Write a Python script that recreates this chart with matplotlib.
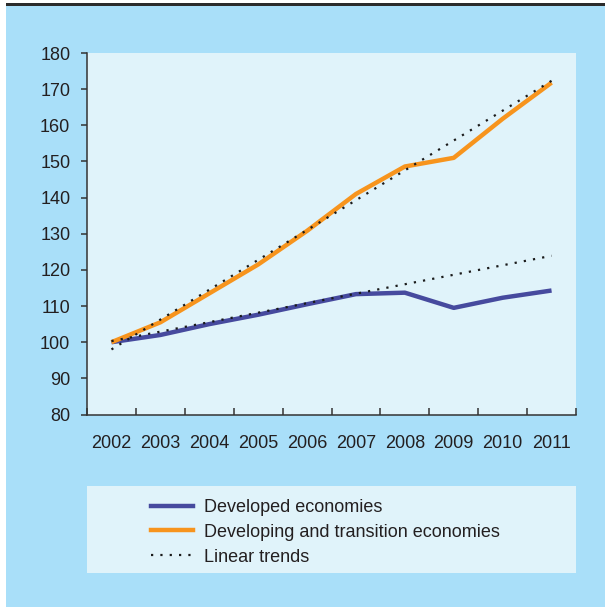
import matplotlib.pyplot as plt
from matplotlib.lines import Line2D
from matplotlib.patches import Rectangle

plt.rcParams['font.family'] = ['Liberation Sans', 'DejaVu Sans']

# data (index, 2002 = 100)
years = ['2002', '2003', '2004', '2005', '2006', '2007', '2008', '2009', '2010', '2011']
developed = [100, 102, 105, 107.6, 110.5, 113.3, 113.7, 109.5, 112.3, 114.3]
developing = [100, 105.5, 113.5, 121.5, 130.8, 141, 148.6, 151, 161.8, 171.8]
# linear trends, start (2002) and end (2011) values
developed_trend = [100.3, 123.9]
developing_trend = [98.0, 172.3]

labels = ['Developed economies', 'Developing and transition economies', 'Linear trends']

bg_blue = '#a9dff9'
panel = '#e0f3fa'
navy = '#464a9e'
orange = '#f7941d'
text_col = '#231f20'

W, H = 605, 607
fig = plt.figure(figsize=(W / 100, H / 100), dpi=100, facecolor='white')

# outer light-blue box with dark rule on top
fig.patches.append(Rectangle((6 / W, 0), 1 - 6 / W, 1 - 6 / H, transform=fig.transFigure,
                             facecolor=bg_blue, edgecolor='none', zorder=-2))
fig.patches.append(Rectangle((6 / W, 1 - 6 / H), 1 - 6 / W, 2.5 / H, transform=fig.transFigure,
                             facecolor='#2b2b2b', edgecolor='none', zorder=-2))

ax = fig.add_axes([87 / W, 1 - 414.5 / H, (576 - 87) / W, (414.5 - 53) / H])
ax.set_facecolor(panel)

x = list(range(len(years)))
ax.plot(x, developed, color=navy, lw=3.2, solid_capstyle='butt', zorder=3)
ax.plot(x, developing, color=orange, lw=3.2, solid_capstyle='butt', zorder=3)
ax.plot([x[0], x[-1]], developed_trend, color='#1a1a1a', lw=1.6, ls=(0, (1, 3.2)), zorder=4)
ax.plot([x[0], x[-1]], developing_trend, color='#1a1a1a', lw=1.6, ls=(0, (1, 3.2)), zorder=4)

ax.set_xlim(-0.5, len(years) - 0.5)
ax.set_ylim(80, 180)
ax.set_yticks(range(80, 181, 10))
ax.set_xticks(x)
ax.set_xticklabels(years)
ax.set_xticks([i - 0.5 for i in range(len(years) + 1)], minor=True)

for s in ['top', 'right']:
    ax.spines[s].set_visible(False)
for s in ['left', 'bottom']:
    ax.spines[s].set_color('#333333')
    ax.spines[s].set_linewidth(1.1)

ax.tick_params(axis='y', direction='out', length=4, width=1.1, color='#333333',
               labelsize=13, labelcolor=text_col, pad=8)
ax.tick_params(axis='x', which='major', length=0, labelsize=13, labelcolor=text_col, pad=14.5)
ax.tick_params(axis='x', which='minor', direction='in', length=5, width=1.1, color='#333333')

# legend box
lax = fig.add_axes([87 / W, 1 - 573 / H, (576 - 87) / W, (573 - 486) / H])
lax.set_facecolor(panel)
lax.set_xticks([])
lax.set_yticks([])
for s in lax.spines.values():
    s.set_visible(False)

handles = [Line2D([], [], color=navy, lw=3.2),
           Line2D([], [], color=orange, lw=3.2),
           Line2D([], [], color='#1a1a1a', lw=1.6, ls=(0, (1, 3.2)))]
leg = lax.legend(handles, labels, loc='upper left', bbox_to_anchor=(142 / W, 1 - 490 / H),
                 bbox_transform=fig.transFigure, frameon=False, fontsize=13,
                 handlelength=2.3, handletextpad=0.62, labelspacing=0.43, borderpad=0)
for t in leg.get_texts():
    t.set_color(text_col)

fig.savefig('out.png', dpi=100, facecolor=fig.get_facecolor())
